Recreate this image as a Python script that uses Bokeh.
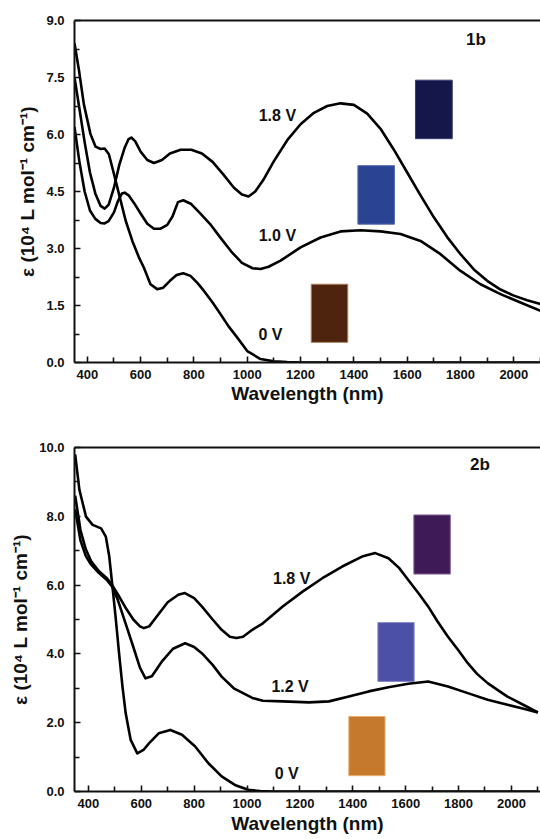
from bokeh.plotting import figure
from bokeh.layouts import column
from bokeh.models import FixedTicker, NumeralTickFormatter, LinearAxis, Range1d
from bokeh.core.properties import value
from bokeh.embed import file_html
from bokeh.resources import INLINE

FONT = "Liberation Sans"

# ---------------- Panel 1b data ----------------
wl_1b_18 = [352, 370, 390, 410, 430, 450, 465, 480, 500, 520, 540, 555, 565, 580, 600, 625, 650, 680,
            710, 750, 790, 830, 870, 910, 950, 980, 1005, 1030, 1060, 1100, 1150, 1200, 1250, 1300, 1350,
            1400, 1450, 1500, 1550, 1600, 1650, 1700, 1750, 1800, 1850, 1900, 1950, 2000, 2050, 2100]
eps_1b_18 = [7.5, 6.7, 5.8, 5.0, 4.45, 4.12, 4.05, 4.15, 4.6, 5.2, 5.65, 5.88, 5.92, 5.82, 5.55, 5.33, 5.25, 5.33,
             5.5, 5.6, 5.6, 5.5, 5.28, 4.95, 4.6, 4.42, 4.37, 4.5, 4.8, 5.3, 5.85, 6.27, 6.57, 6.75, 6.82,
             6.78, 6.55, 6.15, 5.6, 5.0, 4.4, 3.82, 3.3, 2.85, 2.45, 2.15, 1.92, 1.76, 1.64, 1.54]

wl_1b_10 = [352, 370, 390, 410, 430, 450, 465, 480, 500, 515, 530, 540, 555, 575, 600, 625, 650, 675, 700,
            720, 740, 760, 790, 820, 860, 900, 940, 980, 1020, 1050, 1080, 1125, 1200, 1275, 1350, 1425,
            1500, 1575, 1650, 1725, 1800, 1875, 1950, 2025, 2100]
eps_1b_10 = [6.2, 5.3, 4.5, 4.0, 3.78, 3.67, 3.66, 3.72, 3.95, 4.25, 4.45, 4.47, 4.4, 4.2, 3.92, 3.65, 3.52, 3.52, 3.62,
             3.85, 4.22, 4.27, 4.17, 3.95, 3.65, 3.28, 2.92, 2.62, 2.48, 2.46, 2.52, 2.68, 3.03, 3.29, 3.45, 3.48,
             3.45, 3.38, 3.2, 2.85, 2.41, 2.06, 1.8, 1.58, 1.36]

wl_1b_0 = [352, 369, 387, 412, 431, 450, 465, 481, 500, 519, 544, 569, 594, 612, 637, 662, 685, 710, 735,
           760, 787, 812, 837, 870, 900, 930, 962, 1000, 1050, 1100, 1150, 1200, 1600, 2100]
eps_1b_0 = [8.4, 7.68, 6.8, 6.01, 5.68, 5.62, 5.63, 5.48, 4.96, 4.43, 3.73, 3.2, 2.76, 2.5, 2.06, 1.93, 1.97, 2.15, 2.3,
            2.35, 2.28, 2.1, 1.89, 1.58, 1.27, 0.95, 0.66, 0.3, 0.09, 0.03, 0.01, 0.0, 0.0, 0.0]

# ---------------- Panel 2b data ----------------
wl_2b_18 = [350, 370, 390, 410, 440, 470, 490, 510, 540, 570, 595, 610, 630, 660, 700, 740, 765, 800, 829,
            870, 904, 935, 960, 985, 1020, 1060, 1135, 1210, 1285, 1360, 1435, 1485, 1535, 1575, 1610, 1650,
            1685, 1720, 1760, 1800, 1835, 1870, 1910, 1950, 1985, 2050, 2100]
eps_2b_18 = [8.6, 7.6, 7.05, 6.7, 6.4, 6.2, 6.0, 5.75, 5.35, 5.0, 4.8, 4.75, 4.8, 5.1, 5.5, 5.72, 5.77, 5.62, 5.38,
             5.0, 4.7, 4.5, 4.46, 4.5, 4.7, 4.89, 5.38, 5.81, 6.2, 6.54, 6.83, 6.93, 6.78, 6.5, 6.15, 5.75,
             5.38, 4.95, 4.5, 4.1, 3.73, 3.42, 3.15, 2.94, 2.76, 2.5, 2.3]

wl_2b_12 = [350, 370, 390, 410, 440, 470, 490, 510, 540, 570, 595, 616, 640, 680, 720, 766, 800, 829, 870,
            904, 950, 985, 1020, 1060, 1135, 1235, 1310, 1385, 1460, 1535, 1610, 1685, 1760, 1835, 1910,
            1985, 2050, 2100]
eps_2b_12 = [8.2, 7.3, 6.85, 6.6, 6.35, 6.15, 5.95, 5.6, 4.9, 4.2, 3.6, 3.29, 3.35, 3.8, 4.15, 4.31, 4.2, 4.02, 3.68,
             3.34, 3.0, 2.86, 2.72, 2.64, 2.62, 2.59, 2.62, 2.76, 2.91, 3.03, 3.13, 3.2, 3.05, 2.86, 2.67,
             2.52, 2.4, 2.3]

wl_2b_0 = [350, 366, 391, 416, 448, 466, 479, 491, 504, 516, 529, 541, 560, 585, 610, 629, 666, 710, 754,
           804, 854, 904, 954, 1004, 1050, 1100, 1600, 2100]
eps_2b_0 = [9.8, 8.77, 7.99, 7.75, 7.65, 7.41, 6.83, 5.96, 4.99, 4.02, 3.05, 2.28, 1.5, 1.11, 1.22, 1.4, 1.69, 1.79, 1.65,
            1.31, 0.82, 0.44, 0.19, 0.05, 0.01, 0.0, 0.0, 0.0]

# ticks
x_major = [400, 600, 800, 1000, 1200, 1400, 1600, 1800, 2000]
x_minor = [300, 500, 700, 900, 1100, 1300, 1500, 1700, 1900, 2100]
y1_major = [0.0, 1.5, 3.0, 4.5, 6.0, 7.5, 9.0]
y1_minor = [0.75, 2.25, 3.75, 5.25, 6.75, 8.25]
y2_major = [0.0, 2.0, 4.0, 6.0, 8.0, 10.0]
y2_minor = [1.0, 3.0, 5.0, 7.0, 9.0]

YLABEL = "\u03b5 (10\u2074 L mol\u207b\u00b9 cm\u207b\u00b9)"
XLABEL = "Wavelength (nm)"
TXT = "#111111"


def style(p, xmaj, xmin, ymaj, ymin, xstand, xlstand):
    p.outline_line_color = None
    p.xgrid.visible = False
    p.ygrid.visible = False
    p.background_fill_color = "white"
    p.border_fill_color = "white"
    for ax in (p.xaxis[0], p.yaxis[0]):
        ax.axis_line_width = 2
        ax.axis_line_color = "#111111"
        ax.major_tick_in = 6
        ax.major_tick_out = 0
        ax.minor_tick_in = 5
        ax.minor_tick_out = 0
        ax.major_tick_line_width = 1.6
        ax.minor_tick_line_width = 1.6
        ax.major_tick_line_color = "#111111"
        ax.minor_tick_line_color = "#111111"
        ax.major_label_text_font = FONT
        ax.major_label_text_font_style = "bold"
        ax.major_label_text_font_size = "13px"
        ax.major_label_text_color = TXT
        ax.axis_label_text_font = FONT
        ax.axis_label_text_font_style = "bold"
        ax.axis_label_text_color = TXT
    p.xaxis[0].ticker = FixedTicker(ticks=xmaj, minor_ticks=xmin)
    p.yaxis[0].ticker = FixedTicker(ticks=ymaj, minor_ticks=ymin)
    p.yaxis[0].formatter = NumeralTickFormatter(format="0.0")
    p.xaxis[0].axis_label = XLABEL
    p.xaxis[0].axis_label_text_font_size = "19px"
    p.xaxis[0].major_label_standoff = xstand
    p.xaxis[0].axis_label_standoff = xlstand
    p.yaxis[0].axis_label = YLABEL
    p.yaxis[0].axis_label_text_font_size = "19px"
    p.yaxis[0].major_label_standoff = 10
    p.yaxis[0].axis_label_standoff = 5
    top = LinearAxis(ticker=FixedTicker(ticks=[]), axis_line_width=2, axis_line_color="#111111",
                     major_label_text_font_size="0px", major_tick_in=0, major_tick_out=0,
                     minor_tick_in=0, minor_tick_out=0, major_label_standoff=0)
    p.add_layout(top, "above")


# ---------------- Figure 1 ----------------
p1 = figure(width=540, height=408, x_range=Range1d(352, 2100), y_range=Range1d(0, 9),
            output_backend="svg", toolbar_location=None,
            min_border_left=74, min_border_right=0, min_border_top=20, min_border_bottom=46)
style(p1, x_major, x_minor, y1_major, y1_minor, 7, 1)

p1.quad(left=[1631], right=[1769], bottom=[5.89], top=[7.43], fill_color="#15174a", line_color="#3a3d6e", line_width=1)
p1.quad(left=[1415], right=[1552], bottom=[3.64], top=[5.18], fill_color="#2b4393", line_color="#5568b0", line_width=1)
p1.quad(left=[1240], right=[1377], bottom=[0.53], top=[2.06], fill_color="#4e240f", line_color="#b0805a", line_width=1)

for wl, ep in ((wl_1b_18, eps_1b_18), (wl_1b_10, eps_1b_10), (wl_1b_0, eps_1b_0)):
    p1.line(wl, ep, line_color="black", line_width=2.6, line_join="round")

p1.text(x=[1113, 1113, 1087], y=[6.49, 3.33, 0.75], text=["1.8 V", "1.0 V", "0 V"],
        text_font=value(FONT), text_font_style="bold", text_font_size="16px", text_color=TXT,
        text_align="center", text_baseline="middle")
p1.text(x=[1858], y=[8.51], text=["1b"], text_font=value(FONT), text_font_style="bold",
        text_font_size="17px", text_color=TXT, text_align="center", text_baseline="middle")

# ---------------- Figure 2 ----------------
p2 = figure(width=540, height=430, x_range=Range1d(347.5, 2110), y_range=Range1d(0, 10),
            output_backend="svg", toolbar_location=None,
            min_border_left=70, min_border_right=0, min_border_top=39, min_border_bottom=47)
style(p2, x_major, x_minor, y2_major, y2_minor, 7, 2)

p2.quad(left=[1631], right=[1769], bottom=[6.32], top=[8.04], fill_color="#3e1b57", line_color="#8a6aa0", line_width=1)
p2.quad(left=[1495], right=[1632], bottom=[3.2], top=[4.91], fill_color="#4c50a6", line_color="#8488c8", line_width=1)
p2.quad(left=[1385], right=[1522], bottom=[0.46], top=[2.18], fill_color="#c4792d", line_color="#e8b070", line_width=1)

for wl, ep in ((wl_2b_18, eps_2b_18), (wl_2b_12, eps_2b_12), (wl_2b_0, eps_2b_0)):
    p2.line(wl, ep, line_color="black", line_width=2.6, line_join="round")

p2.text(x=[1169, 1163, 1150], y=[6.2, 3.05, 0.53], text=["1.8 V", "1.2 V", "0 V"],
        text_font=value(FONT), text_font_style="bold", text_font_size="16px", text_color=TXT,
        text_align="center", text_baseline="middle")
p2.text(x=[1881], y=[9.5], text=["2b"], text_font=value(FONT), text_font_style="bold",
        text_font_size="17px", text_color=TXT, text_align="center", text_baseline="middle")

layout = column(p1, p2, spacing=0)
open("out.html", "w").write(file_html(layout, INLINE))
